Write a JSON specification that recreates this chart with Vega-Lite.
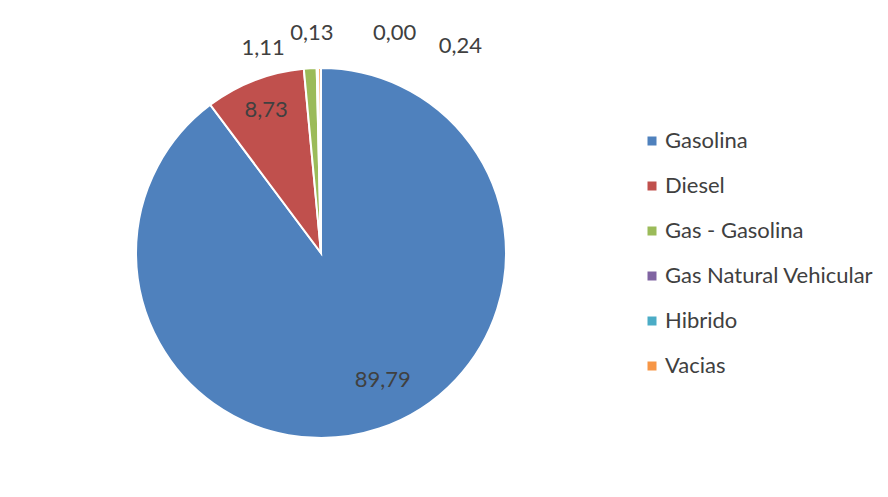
{
  "$schema": "https://vega.github.io/schema/vega-lite/v6.json",
  "width": 642,
  "height": 488,
  "autosize": {"type": "none"},
  "padding": {"left": 0, "top": 9, "right": 246, "bottom": 0},
  "background": "white",
  "config": {
    "view": {"stroke": null},
    "locale": {"number": {"decimal": ",", "thousands": ".", "grouping": [3], "currency": ["$", ""]}},
    "text": {"font": "Lato", "fontSize": 22, "color": "#404040"}
  },
  "data": {
    "values": [
      {"idx": 1, "tipo": "Gasolina", "v": 89.79},
      {"idx": 2, "tipo": "Diesel", "v": 8.73},
      {"idx": 3, "tipo": "Gas - Gasolina", "v": 1.11},
      {"idx": 4, "tipo": "Gas Natural Vehicular", "v": 0.13},
      {"idx": 5, "tipo": "Hibrido", "v": 0.0},
      {"idx": 6, "tipo": "Vacias", "v": 0.24}
    ]
  },
  "encoding": {
    "theta": {"field": "v", "type": "quantitative", "stack": true},
    "order": {"field": "idx", "type": "quantitative"}
  },
  "layer": [
    {
      "mark": {"type": "arc", "outerRadius": 185, "stroke": "white", "strokeWidth": 2},
      "encoding": {
        "color": {
          "field": "tipo",
          "type": "nominal",
          "sort": ["Gasolina", "Diesel", "Gas - Gasolina", "Gas Natural Vehicular", "Hibrido", "Vacias"],
          "scale": {
            "domain": ["Gasolina", "Diesel", "Gas - Gasolina", "Gas Natural Vehicular", "Hibrido", "Vacias"],
            "range": ["#4F81BD", "#C0504D", "#9BBB59", "#8064A2", "#4BACC6", "#F79646"]
          },
          "legend": {
            "title": null,
            "orient": "none",
            "legendX": 641,
            "legendY": 121,
            "symbolType": "square",
            "symbolSize": 81,
            "symbolStrokeWidth": 0,
            "labelFont": "Lato",
            "labelFontSize": 22,
            "labelColor": "#404040",
            "labelOffset": 2,
            "labelLimit": 400,
            "rowPadding": 23,
            "padding": 0
          }
        }
      }
    },
    {
      "mark": {"type": "text", "radius": 142, "dx": 17, "dy": -8},
      "encoding": {"text": {"condition": {"test": "datum.tipo === 'Gasolina'", "field": "v", "type": "quantitative", "format": ".2f"}, "value": ""}}
    },
    {
      "mark": {"type": "text", "radius": 153},
      "encoding": {"text": {"condition": {"test": "datum.tipo === 'Diesel'", "field": "v", "type": "quantitative", "format": ".2f"}, "value": ""}}
    },
    {
      "mark": {"type": "text", "radius": 205, "dx": -46},
      "encoding": {"text": {"condition": {"test": "datum.tipo === 'Gas - Gasolina'", "field": "v", "type": "quantitative", "format": ".2f"}, "value": ""}}
    },
    {
      "mark": {"type": "text", "radius": 220, "dx": -5},
      "encoding": {"text": {"condition": {"test": "datum.tipo === 'Gas Natural Vehicular'", "field": "v", "type": "quantitative", "format": ".2f"}, "value": ""}}
    },
    {
      "mark": {"type": "text", "radius": 220, "dx": 77},
      "encoding": {"text": {"condition": {"test": "datum.tipo === 'Hibrido'", "field": "v", "type": "quantitative", "format": ".2f"}, "value": ""}}
    },
    {
      "mark": {"type": "text", "radius": 207, "dx": 141},
      "encoding": {"text": {"condition": {"test": "datum.tipo === 'Vacias'", "field": "v", "type": "quantitative", "format": ".2f"}, "value": ""}}
    }
  ]
}
